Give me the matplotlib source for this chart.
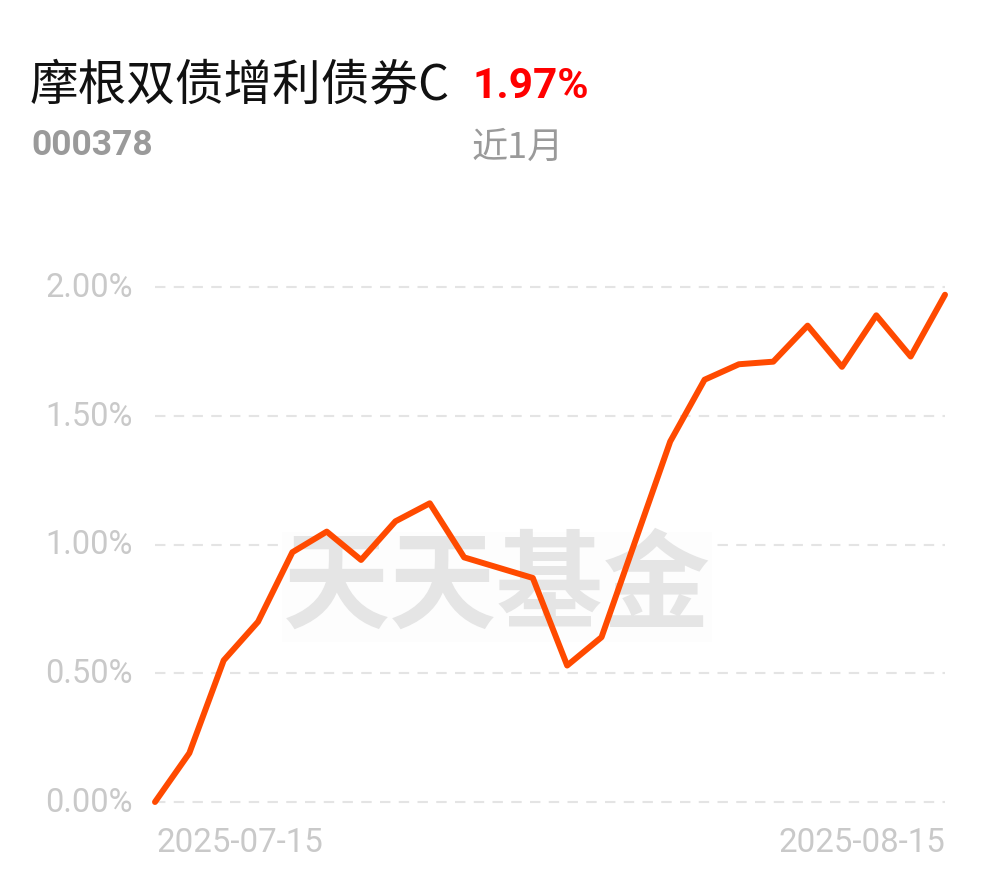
import matplotlib.pyplot as plt

# data (cumulative return, %)
dates = ["2025-07-15", "2025-07-16", "2025-07-17", "2025-07-18", "2025-07-21",
         "2025-07-22", "2025-07-23", "2025-07-24", "2025-07-25", "2025-07-28",
         "2025-07-29", "2025-07-30", "2025-07-31", "2025-08-01", "2025-08-04",
         "2025-08-05", "2025-08-06", "2025-08-07", "2025-08-08", "2025-08-11",
         "2025-08-12", "2025-08-13", "2025-08-14", "2025-08-15"]
returns = [0.00, 0.19, 0.55, 0.70, 0.97, 1.05, 0.94, 1.09, 1.16, 0.95,
           0.91, 0.87, 0.53, 0.64, 1.02, 1.40, 1.64, 1.70, 1.71, 1.85,
           1.69, 1.89, 1.73, 1.97]
yticks = [0.0, 0.5, 1.0, 1.5, 2.0]

fund_name = "摩根双债增利债券C"
fund_code = "000378"
period = "近1月"

cjk = ["Noto Sans CJK SC", "DejaVu Sans"]

W, H = 990, 878
fig = plt.figure(figsize=(W / 100, H / 100), dpi=100)
fig.patch.set_facecolor("white")

# axes: x 155..945 px, y 0% at 803 px, 2% at 288 px
ax = fig.add_axes([155 / W, (H - 803) / H, (945 - 155) / W, (803 - 288) / H])
ax.set_xlim(0, len(returns) - 1)
ax.set_ylim(0, 2.0)
for s in ax.spines.values():
    s.set_visible(False)
ax.set_xticks([])
ax.set_yticks([])

grid_col = "#e4e4e4"
lab_col = "#c9c9c9"
for v in yticks:
    ax.axhline(v, color=grid_col, lw=1.5, ls=(0, (5, 4)), zorder=1, clip_on=False)
    ax.text(-0.65, v, f"{v:.2f}%", ha="right", va="center", fontsize=23.5,
            family="Roboto", color=lab_col)

# watermark
ax.text(9.95, 0.835, "天天基金", ha="center", va="center", fontsize=77,
        family=cjk, fontweight="bold", color="#e5e5e5", zorder=2,
        bbox=dict(facecolor="#fdfdfd", edgecolor="none", pad=1))

x = list(range(len(returns)))
ax.plot(x, returns, color="#ff4a00", lw=4.3, solid_joinstyle="round",
        solid_capstyle="round", zorder=3, clip_on=False)

# date labels at both ends
ax.text(0.05, -0.095, dates[0], ha="left", va="top", fontsize=23.8,
        family="Roboto", color=lab_col)
ax.text(len(returns) - 1, -0.095, dates[-1], ha="right", va="top", fontsize=23.8,
        family="Roboto", color=lab_col)

# header
fig.text(30 / W, 1 - 86 / H, fund_name, ha="left", va="center", fontsize=35,
         family=cjk, color="#111111")
fig.text(473 / W, 1 - 86 / H, f"{returns[-1]:.2f}%", ha="left", va="center",
         fontsize=30.5, family="Roboto", fontweight="bold", color="#ff0000")
fig.text(31 / W, 1 - 146 / H, fund_code, ha="left", va="center", fontsize=25.5,
         family="Roboto", fontweight="bold", color="#9a9a9a")
fig.text(472 / W, 1 - 148 / H, period, ha="left", va="center", fontsize=26,
         family=cjk, color="#9a9a9a")

fig.savefig("out.png", dpi=100, facecolor="white")
